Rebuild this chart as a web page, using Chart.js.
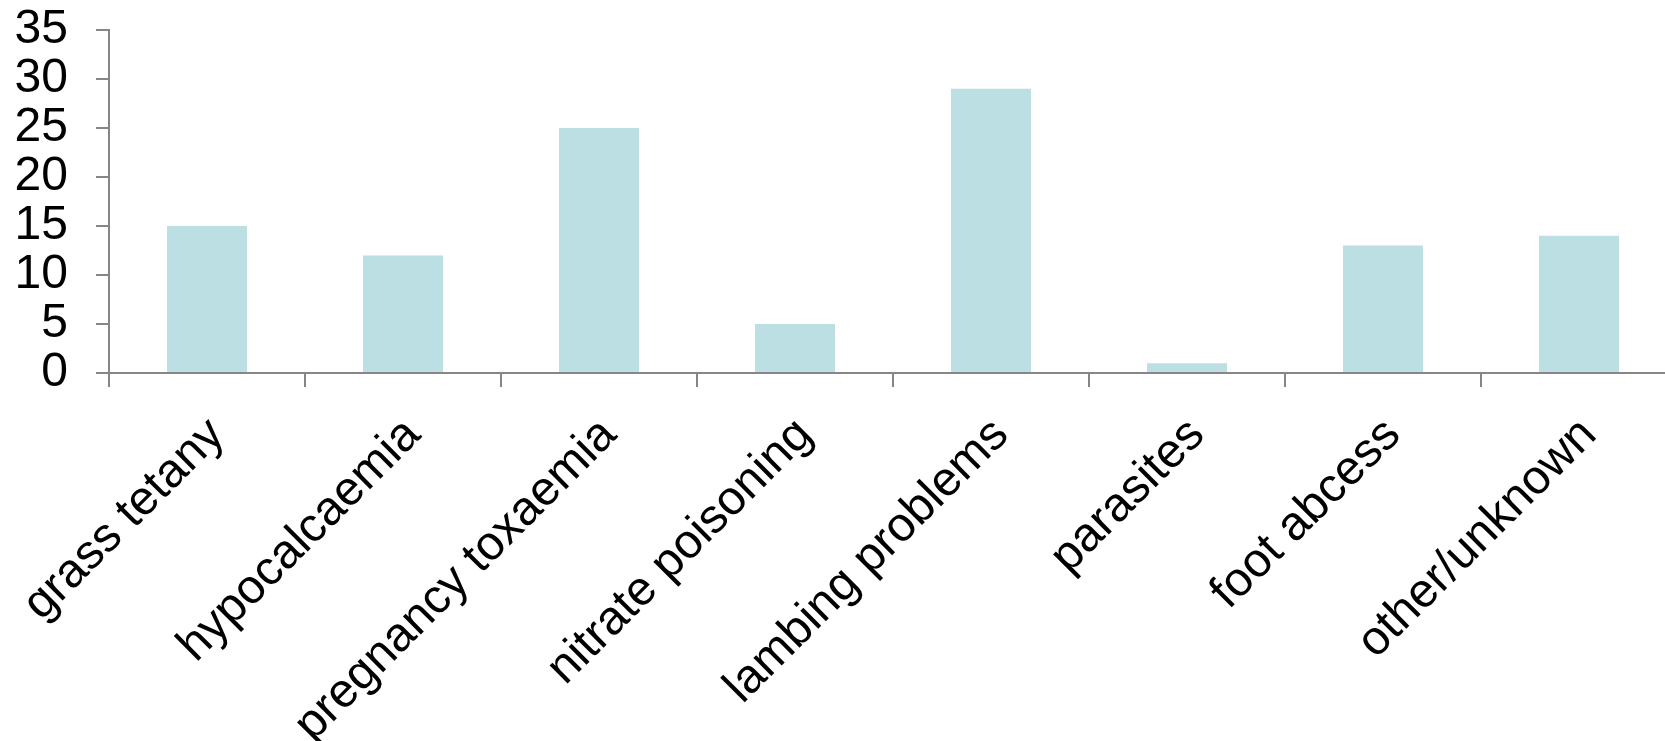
<!DOCTYPE html>
<html>
<head>
<meta charset="utf-8">
<script src="https://cdn.jsdelivr.net/npm/chart.js@4/dist/chart.umd.min.js"></script>
<style>
  html, body { margin: 0; padding: 0; background: #fff; overflow: hidden; }
  #wrap { position: relative; width: 1677px; height: 741px; }
</style>
</head>
<body>
<div id="wrap"><canvas id="c"></canvas></div>
<script>
// Causes of sheep deaths (number of cases)
const causes = [
  'grass tetany', 'hypocalcaemia', 'pregnancy toxaemia', 'nitrate poisoning',
  'lambing problems', 'parasites', 'foot abcess', 'other/unknown'
];
const cases = [15, 12, 25, 5, 29, 1, 13, 14];
const yTicks = [0, 5, 10, 15, 20, 25, 30, 35];

const axisGrey = '#868686';
const barFill = '#BBDFE2';
const labelFont = { family: '"Liberation Sans", Arial, sans-serif', size: 48 };

new Chart(document.getElementById('c'), {
  type: 'bar',
  data: {
    labels: causes,
    datasets: [{
      data: cases,
      backgroundColor: barFill,
      borderWidth: 0,
      categoryPercentage: 1,
      barPercentage: 0.408
    }]
  },
  options: {
    responsive: true,
    maintainAspectRatio: false,
    animation: false,
    layout: { padding: { top: 30, left: 0, right: 0, bottom: 0 } },
    plugins: { legend: { display: false }, tooltip: { enabled: false } },
    scales: {
      x: {
        grid: {
          display: true, drawOnChartArea: false, offset: true,
          color: axisGrey, lineWidth: 2, tickLength: 14
        },
        border: { color: axisGrey, width: 2 },
        ticks: {
          color: '#000', font: labelFont,
          minRotation: 45, maxRotation: 45, autoSkip: false,
          padding: 20, labelOffset: 10
        },
        afterFit(scale) {
          scale.height = 741 - 373;
          scale.paddingLeft = 0;
          scale.paddingRight = 0;
        }
      },
      y: {
        min: 0, max: 35,
        afterBuildTicks(scale) { scale.ticks = yTicks.map(v => ({ value: v })); },
        grid: {
          display: true, drawOnChartArea: false,
          color: axisGrey, lineWidth: 2, tickLength: 13
        },
        border: { color: axisGrey, width: 2 },
        ticks: { color: '#000', font: labelFont, padding: 28, autoSkip: false },
        afterFit(scale) {
          scale.width = 109;
          scale.paddingTop = 0;
          scale.paddingBottom = 0;
        }
      }
    }
  }
});
</script>
</body>
</html>
